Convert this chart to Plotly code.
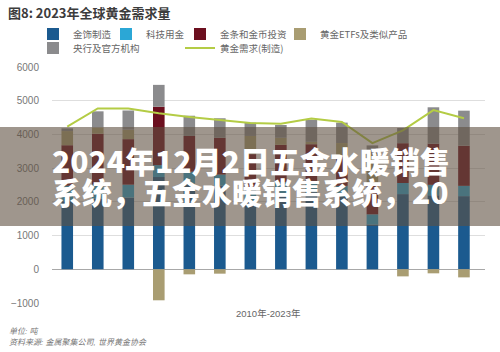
import plotly.graph_objects as go

years = list(range(2010, 2024))
jewelry = [2020, 2090, 2130, 2735, 2545, 2480, 2020, 2255, 2285, 2150, 1330, 2230, 2195, 2170]
tech = [460, 430, 380, 355, 350, 330, 325, 335, 335, 325, 300, 330, 310, 305]
barcoin = [1200, 1500, 1350, 1730, 1060, 1090, 1070, 1100, 1090, 870, 900, 1180, 1220, 1190]
etf = [420, 185, 280, -920, -150, -130, 540, 210, 70, 400, 890, -210, -120, -240]
central = [80, 480, 570, 650, 600, 580, 395, 380, 655, 605, 255, 450, 1080, 1040]
demand = [4230, 4770, 4770, 4630, 4520, 4420, 4340, 4320, 4470, 4370, 3740, 4120, 4720, 4480]

names = ["金饰制造", "科技用金", "金条和金币投资", "黄金ETFs及类似产品", "央行及官方机构", "黄金需求(制造)"]
colors = ["#1b5a8f", "#2ba7d6", "#6c0f1f", "#a99d72", "#8b8b8d", "#b4cc45"]

W, H = 500, 352
ML, MR, MT, MB = 52, 15, 67, 49
PW, PH = W - ML - MR, H - MT - MB
FONT = "Liberation Sans, Noto Sans CJK SC, sans-serif"
CJK = "Noto Sans CJK SC, sans-serif"

fig = go.Figure()
series = [jewelry, tech, barcoin, etf, central]
legend_ids = ["legend", "legend2", "legend3", "legend4", "legend5"]
for vals, nm, col, lg in zip(series, names[:5], colors[:5], legend_ids):
    fig.add_trace(go.Bar(x=years, y=vals, name=nm, marker=dict(color=col, line=dict(width=0)),
                         legend=lg))
fig.add_trace(go.Scatter(x=years, y=demand, name=names[5], mode="lines",
                         line=dict(color=colors[5], width=2), legend="legend6"))

# legend positions (text start x, center y in px)
legpos = [(75, 34), (148, 34), (222, 34), (322, 34), (75, 48), (222, 48)]
leg_layout = {}
for lg, (tx, ty) in zip(legend_ids + ["legend6"], legpos):
    leg_layout[lg] = dict(xref="container", yref="container", x=(tx - 42) / W, y=1 - ty / H,
                          xanchor="left", yanchor="middle", orientation="h",
                          bgcolor="rgba(0,0,0,0)", borderwidth=0,
                          font=dict(family=CJK, size=9.5, color="#666666"))

def px2px(x):
    return (x - ML) / PW

def py2py(y):
    return (MT + PH - y) / PH

annotations = [
    dict(text="图8: 2023年全球黄金需求量", xref="paper", yref="paper", x=px2px(6), y=py2py(13),
         xanchor="left", yanchor="middle", showarrow=False,
         font=dict(family=CJK, size=13, color="#3c3c3c", weight="bold")),
    dict(text="2010年-2023年", xref="paper", yref="paper", x=0.5, y=py2py(313),
         xanchor="center", yanchor="middle", showarrow=False,
         font=dict(family=FONT, size=9.5, color="#666666")),
    dict(text="<i>单位: 吨</i>", xref="paper", yref="paper", x=px2px(7), y=py2py(331),
         xanchor="left", yanchor="middle", showarrow=False,
         font=dict(family=FONT, size=8, color="#777777")),
    dict(text="<i>资料来源: 金属聚集公司, 世界黄金协会</i>", xref="paper", yref="paper", x=px2px(7), y=py2py(342),
         xanchor="left", yanchor="middle", showarrow=False,
         font=dict(family=FONT, size=8, color="#777777")),
    dict(text="2024年12月2日五金水暖销售", xref="paper", yref="paper", x=px2px(50), y=py2py(160),
         xanchor="left", yanchor="middle", showarrow=False,
         font=dict(family=CJK, size=30, color="white", weight=900)),
    dict(text="系统，五金水暖销售系统，20", xref="paper", yref="paper", x=px2px(50), y=py2py(191),
         xanchor="left", yanchor="middle", showarrow=False,
         font=dict(family=CJK, size=30, color="white", weight=900)),
]

shapes = [
    dict(type="rect", xref="paper", yref="paper", x0=px2px(0), x1=px2px(W), y0=py2py(226), y1=py2py(127),
         fillcolor="rgba(95,80,65,0.6)", line=dict(width=0), layer="above"),
]

fig.update_layout(
    width=W, height=H,
    margin=dict(l=ML, r=MR, t=MT, b=MB, pad=0, autoexpand=False),
    paper_bgcolor="white", plot_bgcolor="white",
    barmode="relative", bargap=0.62,
    showlegend=True,
    annotations=annotations, shapes=shapes,
    font=dict(family=FONT),
    **leg_layout,
)
fig.update_xaxes(range=[2009.5, 2023.69], showticklabels=False, showgrid=False, zeroline=False,
                 showline=False, fixedrange=True)
fig.update_yaxes(range=[-1000, 6000], dtick=1000, showgrid=True, gridcolor="#dedede", gridwidth=1,
                 zeroline=True, zerolinecolor="#a8a8a8", zerolinewidth=1,
                 tickfont=dict(family=FONT, size=10, color="#777777"),
                 ticklabelstandoff=12, showline=False, fixedrange=True)

fig.write_html("out.html")
